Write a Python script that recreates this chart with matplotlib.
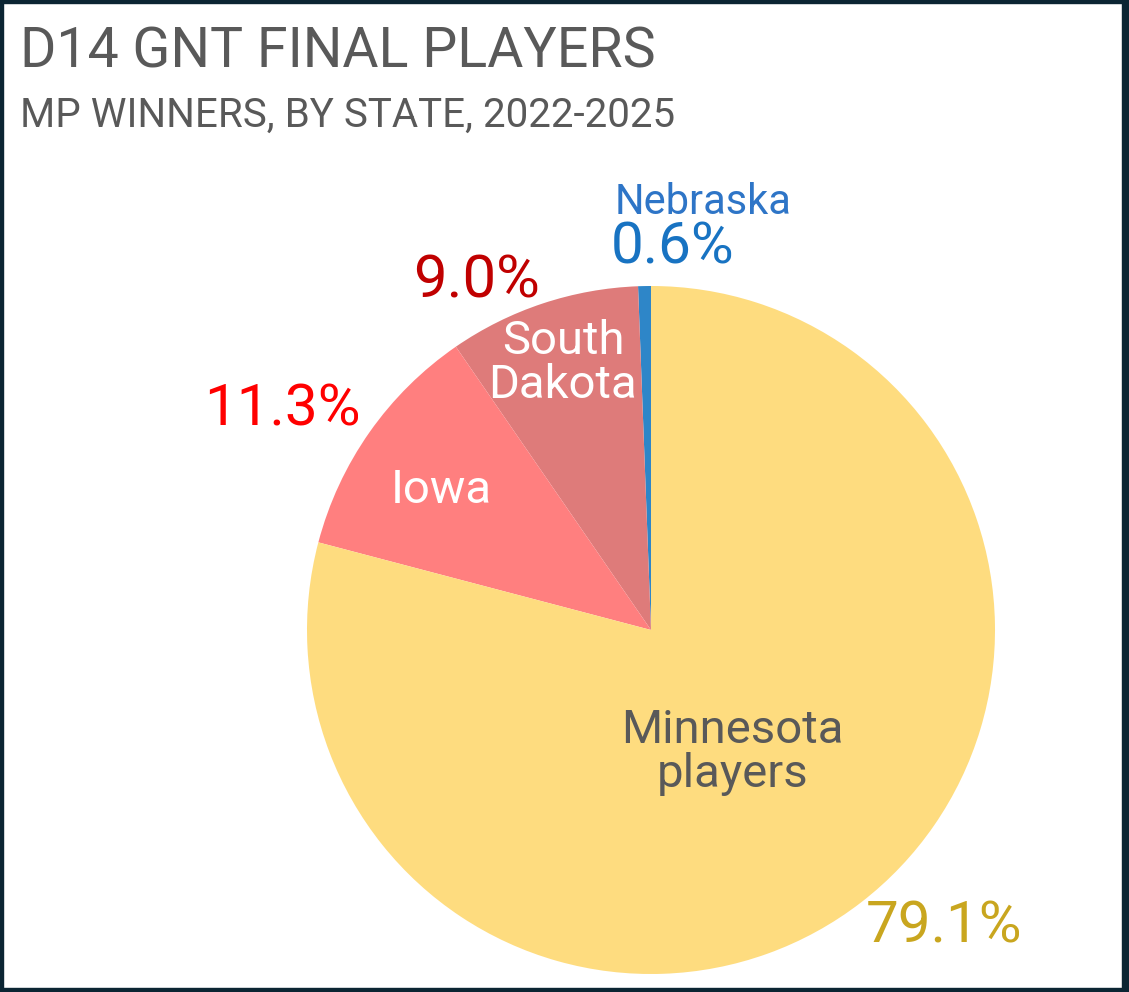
import matplotlib
matplotlib.use("Agg")
import matplotlib.pyplot as plt
from matplotlib.patches import Rectangle

# Data
states = ["Nebraska", "South Dakota", "Iowa", "Minnesota"]
shares = [0.6, 9.0, 11.3, 79.1]
pct_labels = ["0.6%", "9.0%", "11.3%", "79.1%"]
inner_labels = ["", "South\nDakota", "Iowa", "Minnesota\nplayers"]
slice_colors = ["#2E86C8", "#DE7B7A", "#FF7F7F", "#FEDC7F"]
pct_colors = ["#1873C2", "#C00000", "#FF0000", "#C9A61F"]
inner_colors = ["#FFFFFF", "#FFFFFF", "#FFFFFF", "#595959"]

W, H = 1129, 992
fig = plt.figure(figsize=(W / 100, H / 100), dpi=100)
fig.patch.set_facecolor("white")

# pie axes: center (651,630) px, radius 344 px
cx, cy, r = 651, 630, 344
ax = fig.add_axes([(cx - r) / W, (H - cy - r) / H, 2 * r / W, 2 * r / H])
ax.pie(shares, colors=slice_colors, startangle=90, counterclock=True,
       radius=1, wedgeprops=dict(linewidth=0))
ax.set_xlim(-1, 1)
ax.set_ylim(-1, 1)
ax.set_aspect("equal")
ax.axis("off")

font = ["Roboto", "DejaVu Sans"]

# label positions (data coords)
pct_pos = [(0.064, 1.110), (-0.506, 1.015), (-1.073, 0.640), (0.852, -0.863)]
pct_sizes = [42, 43, 42, 42]
inner_pos = [None, (-0.256, 0.776), (-0.610, 0.407), (0.238, -0.355)]

for i in range(len(states)):
    x, y = pct_pos[i]
    ax.text(x, y, pct_labels[i], color=pct_colors[i], fontsize=pct_sizes[i],
            ha="center", va="center", family=font, clip_on=False)
    if inner_pos[i] is not None:
        x, y = inner_pos[i]
        ax.text(x, y, inner_labels[i], color=inner_colors[i], fontsize=34,
                ha="center", va="center", family=font, linespacing=1.0, clip_on=False)

ax.text(0.151, 1.244, "Nebraska", color="#2E75C7", fontsize=30,
        ha="center", va="center", family=font, clip_on=False)

# titles
title_font = ["Roboto", "DejaVu Sans"]
fig.text(20 / W, 1 - 68 / H, "D14 GNT FINAL PLAYERS", color="#595959",
         fontsize=40, family=title_font, ha="left", va="baseline")
fig.text(20 / W, 1 - 127 / H, "MP WINNERS, BY STATE, 2022-2025", color="#595959",
         fontsize=29, family=title_font, ha="left", va="baseline")

# border
bc = "#0B2533"
for (x0, y0, w, h) in [(0, 0, 3, H), (W - 7, 0, 7, H), (0, 0, W, 3), (0, H - 4, W, 4)]:
    fig.patches.append(Rectangle((x0 / W, 1 - (y0 + h) / H), w / W, h / H,
                                 transform=fig.transFigure, color=bc, zorder=10))

fig.savefig("out.png", dpi=100)
